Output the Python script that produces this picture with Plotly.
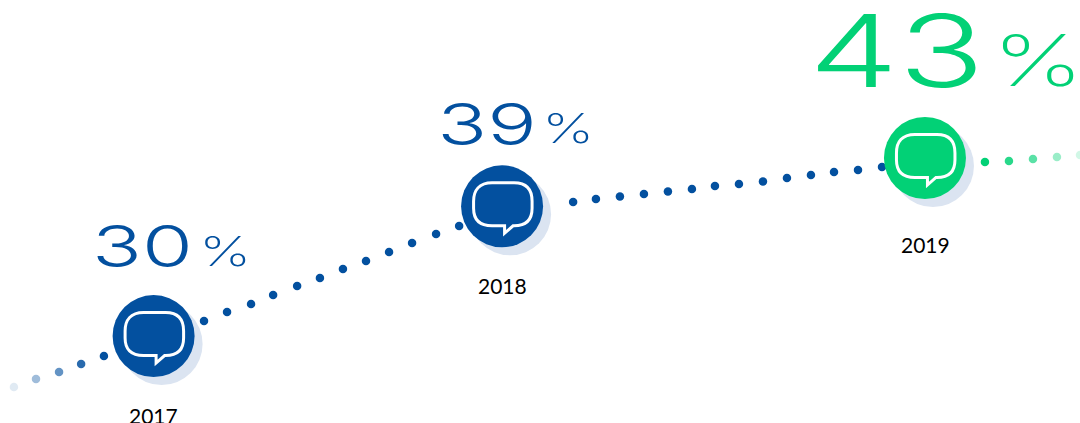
import math
import plotly.graph_objects as go

# Yearly headline figures
years = ["2017", "2018", "2019"]
shares = [30, 39, 43]
year_pos = [6.40, 20.92, 38.54]

# Dotted trend running through the headline figures
blue_pos = [0.58, 1.50, 2.46, 3.38, 4.33, 8.50, 9.46, 10.46, 11.38, 12.38, 13.33, 14.29, 15.25,
            16.21, 17.17, 18.17, 19.13, 23.88, 24.83, 25.83, 26.83, 27.83, 28.83, 29.79, 30.79,
            31.79, 32.79, 33.79, 34.75, 35.75, 36.75]
blue_share = [27.06, 27.50, 27.89, 28.35, 28.81, 30.93, 31.49, 32.00, 32.60, 33.19, 33.73, 34.35,
              34.92, 35.56, 36.21, 36.87, 37.47, 39.34, 39.58, 39.78, 39.98, 40.18, 40.39, 40.64,
              40.80, 41.00, 41.30, 41.55, 41.80, 41.97, 42.23]
green_pos = [41.04, 42.04, 43.04, 44.04, 45.00]
green_share = [42.65, 42.74, 42.91, 43.09, 43.26]

BLUE = "#03509f"
GREEN = "#02d176"
SHADOW = "#dbe4f1"
PX_PER_STEP = 24.0
PX_PER_DECADE = 1138.6

blue_fade = [0.12, 0.38, 0.62, 0.85] + [1.0] * (len(blue_pos) - 4)
green_fade = [1.0, 0.85, 0.65, 0.4, 0.18]
disc_colors = [BLUE, BLUE, GREEN]

fig = go.Figure()

fig.add_trace(go.Scatter(x=blue_pos, y=blue_share, mode="markers", cliponaxis=False,
                         marker=dict(size=8.5, color=BLUE, opacity=blue_fade)))
fig.add_trace(go.Scatter(x=green_pos, y=green_share, mode="markers", cliponaxis=False,
                         marker=dict(size=8.5, color=GREEN, opacity=green_fade)))

# Soft disc sitting 8 px down and right of each year disc
fig.add_trace(go.Scatter(x=[p + 8 / PX_PER_STEP for p in year_pos],
                         y=[s * 10 ** (-8 / PX_PER_DECADE) for s in shares],
                         mode="markers", marker=dict(size=82, color=SHADOW, line_width=0)))
fig.add_trace(go.Scatter(x=year_pos, y=shares, mode="markers",
                         marker=dict(size=82, color=disc_colors, line_width=0)))

# Speech bubble outline, in pixels around each disc centre
BUBBLE = ("M -10 23.5 L 12 23.5 C 25 23.5 30 16 30 5 L 30 -2 C 30 -13 25 -19.5 12 -19.5 "
          "L 11 -19.5 L 2.5 -27 L 2.5 -19.5 L -10 -19.5 C -23 -19.5 -28.5 -13 -28.5 -2 "
          "L -28.5 5 C -28.5 16 -23 23.5 -10 23.5 Z")
for p, s in zip(year_pos, shares):
    fig.add_shape(type="path", path=BUBBLE, xref="x", yref="y",
                  xsizemode="pixel", ysizemode="pixel", xanchor=p, yanchor=s,
                  line=dict(color="white", width=3), fillcolor="rgba(0,0,0,0)", layer="above")

# (digit size, digit dx, digit dy, percent size, percent dx, percent dy, label dx, label dy)
label_layout = [
    (58, -11, 90, 41, 72, 85, 0, -79),
    (58, -15, 82, 41, 66, 78, 0, -79),
    (100, -28, 108, 72, 113, 99, 1, -86),
]
for p, s, yr, col, (ds, dx, dy, ps, px, py, lx, ly) in zip(year_pos, shares, years, disc_colors, label_layout):
    anchor = math.log10(s)  # annotations on a log axis take the exponent
    fig.add_annotation(x=p, y=anchor, text=str(s), showarrow=False, xshift=dx, yshift=dy,
                       font=dict(family="Inter", size=ds, color=col, weight=330))
    fig.add_annotation(x=p, y=anchor, text="%", showarrow=False, xshift=px, yshift=py,
                       font=dict(family="Inter", size=ps, color=col, weight=200))
    fig.add_annotation(x=p, y=anchor, text=yr, showarrow=False, xshift=lx, yshift=ly,
                       font=dict(family="Lato", size=21, color="black"))

fig.update_layout(
    width=1080, height=423, margin=dict(l=0, r=0, t=0, b=0), showlegend=False,
    paper_bgcolor="white", plot_bgcolor="white",
    xaxis=dict(visible=False, range=[0, 45]),
    yaxis=dict(visible=False, type="log", range=[1.40073, 1.77224]),
)

# Widen the big numerals about their own centres
stretch = """
document.querySelectorAll('.annotation-text').forEach(function (el) {
  var t = el.textContent;
  var s = (t === '%') ? 1.42 : (/^\\d\\d$/.test(t) ? 1.42 : 0);
  if (!s) return;
  var b = el.getBBox();
  var c = b.x + b.width / 2;
  var prev = el.getAttribute('transform') || '';
  el.setAttribute('transform', prev + ' translate(' + c + ',0) scale(' + s + ',1) translate(' + (-c) + ',0)');
});
"""
fig.write_html("out.html", post_script=stretch)
